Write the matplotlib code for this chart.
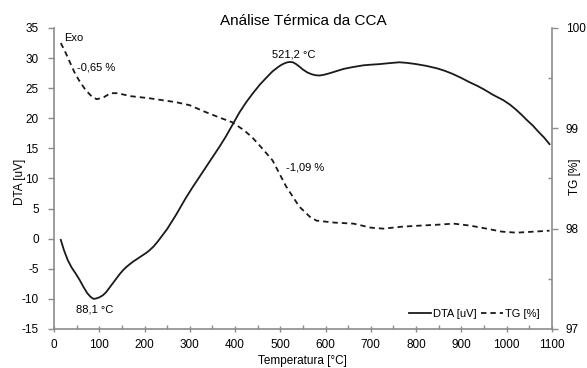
import matplotlib
matplotlib.use("Agg")
import matplotlib.pyplot as plt
from matplotlib.ticker import MultipleLocator

plt.rcParams['font.family'] = ['Liberation Sans', 'DejaVu Sans']
plt.rcParams['axes.unicode_minus'] = False

# DTA curve [uV] vs temperature [°C]
dta_temp = [15, 22, 30, 39, 48, 57, 65, 73, 80, 85, 88, 92, 100, 108, 115, 122, 130,
            138, 145, 153, 160, 168, 175, 185, 195, 203, 210, 220, 230, 240, 250,
            260, 270, 280, 290, 305, 320, 335, 350, 365, 380, 395, 410, 425, 440,
            455, 470, 483, 495, 503, 510, 516, 521, 528, 535, 542, 550, 560, 570,
            578, 587, 598, 610, 625, 640, 660, 684, 700, 720, 740, 763, 780, 800,
            823, 846, 863, 880, 900, 918, 935, 950, 970, 993, 1007, 1020, 1033,
            1045, 1058, 1070, 1083, 1095]
dta_val = [-0.2, -1.9, -3.5, -4.8, -5.8, -6.9, -8.0, -9.0, -9.6, -9.9, -10.0, -9.95,
           -9.75, -9.4, -8.9, -8.2, -7.4, -6.6, -5.9, -5.2, -4.7, -4.2, -3.8, -3.3,
           -2.8, -2.4, -2.0, -1.3, -0.4, 0.6, 1.6, 2.8, 4.0, 5.3, 6.6, 8.4, 10.1,
           11.8, 13.5, 15.2, 17.0, 19.0, 21.0, 22.7, 24.2, 25.6, 26.8, 27.8, 28.5,
           28.9, 29.15, 29.3, 29.35, 29.3, 29.0, 28.6, 28.1, 27.6, 27.3, 27.15,
           27.1, 27.25, 27.5, 27.85, 28.2, 28.5, 28.8, 28.9, 29.0, 29.15, 29.3,
           29.2, 29.0, 28.7, 28.3, 27.9, 27.4, 26.7, 26.0, 25.4, 24.8, 23.9, 23.0,
           22.3, 21.5, 20.6, 19.7, 18.8, 17.8, 16.8, 15.7]

# TG curve [%] vs temperature [°C]
tg_temp = [15, 25, 33, 45, 55, 70, 85, 95, 110, 125, 140, 170, 210, 270, 300, 336,
           370, 394, 420, 438, 460, 483, 513, 542, 565, 580, 620, 662, 700, 728, 770,
           808, 850, 883, 920, 956, 990, 1022, 1060, 1095]
tg_val = [99.85, 99.76, 99.68, 99.56, 99.48, 99.38, 99.31, 99.29, 99.31, 99.35,
          99.35, 99.32, 99.30, 99.26, 99.23, 99.16, 99.10, 99.06, 98.98, 98.91,
          98.80, 98.68, 98.42, 98.22, 98.12, 98.08, 98.06, 98.05, 98.01, 98.00,
          98.02, 98.03, 98.04, 98.05, 98.03, 98.00, 97.97, 97.96, 97.97, 97.98]

spine_col = '#8c8c8c'
line_col = '#1a1a1a'
fs = 8.5

fig = plt.figure(figsize=(5.87, 3.68), dpi=100)
ax = fig.add_axes([0.092, 0.106, 0.848, 0.818])
ax2 = ax.twinx()

l1, = ax.plot(dta_temp, dta_val, color=line_col, lw=1.3, label='DTA [uV]')
l2, = ax2.plot(tg_temp, tg_val, color=line_col, lw=1.3, ls=(0, (3, 2.2)), label='TG [%]')

ax.set_xlim(0, 1100)
ax.set_ylim(-15, 35)
ax2.set_ylim(97, 100)

ax.xaxis.set_major_locator(MultipleLocator(100))
ax.xaxis.set_minor_locator(MultipleLocator(50))
ax.yaxis.set_major_locator(MultipleLocator(5))
ax2.yaxis.set_major_locator(MultipleLocator(1))
ax2.yaxis.set_minor_locator(MultipleLocator(0.5))

for a in (ax, ax2):
    for s in a.spines.values():
        s.set_color(spine_col)
        s.set_linewidth(1.2)
    a.spines['top'].set_visible(False)
ax.spines['right'].set_visible(False)
ax2.spines['left'].set_visible(False)
ax2.spines['bottom'].set_visible(False)

ax.tick_params(axis='x', which='major', direction='inout', length=5, width=1,
               color=spine_col, labelsize=fs, pad=5)
ax.tick_params(axis='y', which='major', direction='out', length=4, width=1,
               color=spine_col, labelsize=fs, pad=7)
ax.tick_params(axis='x', which='minor', direction='in', length=3, width=1, color=spine_col)
ax2.tick_params(axis='y', which='major', direction='out', length=4, width=1,
                color=spine_col, labelsize=fs, pad=6)
ax2.tick_params(axis='y', which='minor', direction='in', length=3, width=1, color=spine_col)

ax.set_xlabel('Temperatura [°C]', fontsize=fs)
ax.set_ylabel('DTA [uV]', fontsize=fs)
ax2.set_ylabel('TG [%]', fontsize=fs, rotation=90)
ax.xaxis.set_label_coords(0.5, -0.086)
ax.yaxis.set_label_coords(-0.056, 0.49)
ax2.yaxis.set_label_coords(1.034, 0.505)
ax.set_title('Análise Térmica da CCA', fontsize=11, pad=2)

tfs = 8
ax.text(22, 33.3, 'Exo', fontsize=tfs, va='center', ha='left')
ax.text(51, 28.4, '-0,65 %', fontsize=tfs, va='center', ha='left')
ax.text(530, 30.6, '521,2 °C', fontsize=tfs, va='center', ha='center')
ax.text(513, 11.9, '-1,09 %', fontsize=tfs, va='center', ha='left')
ax.text(90, -11.7, '88,1 °C', fontsize=tfs, va='center', ha='center')

ax.legend(handles=[l1, l2], loc='lower right', ncol=2, frameon=False, fontsize=tfs,
          handlelength=2.0, handletextpad=0.15, columnspacing=0.4,
          bbox_to_anchor=(0.995, 0.0))

fig.savefig('out.png', dpi=100)
